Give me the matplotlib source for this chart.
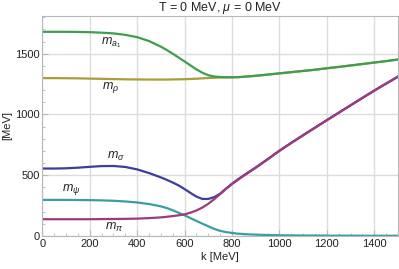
import matplotlib
matplotlib.use("Agg")
import matplotlib.pyplot as plt
from matplotlib.ticker import MultipleLocator

plt.rcParams['font.family'] = ['Liberation Sans', 'DejaVu Sans']
plt.rcParams['mathtext.fontset'] = 'custom'
plt.rcParams['mathtext.it'] = 'Liberation Sans:italic'
plt.rcParams['mathtext.rm'] = 'Liberation Sans'

k = [0, 50, 100, 150, 200, 250, 300, 350, 400, 450, 500,
     525, 550, 575, 600, 625, 650, 675, 700, 725, 750, 775, 800,
     825, 850, 875, 900,
     950, 1000, 1050, 1100, 1150, 1200, 1250, 1300, 1350, 1400, 1450, 1500]

m_a1 = [1680, 1680, 1680, 1679, 1677, 1673, 1667, 1655, 1636, 1604, 1558,
        1530, 1500, 1468, 1436, 1403, 1371, 1343, 1323, 1312, 1308, 1306, 1306,
        1307, 1310, 1314, 1318,
        1328, 1338, 1348, 1358, 1368, 1380, 1391, 1403, 1415, 1427, 1439, 1452]

m_rho = [1299, 1299, 1298, 1297, 1295, 1293, 1291, 1289, 1288, 1287, 1287,
         1287, 1288, 1289, 1290, 1292, 1294, 1297, 1300, 1302, 1304, 1305, 1306,
         1307, 1310, 1314, 1318,
         1328, 1338, 1348, 1358, 1368, 1380, 1391, 1403, 1415, 1427, 1439, 1452]

m_sigma = [555, 555, 557, 562, 569, 575, 576, 568, 548, 518, 482,
           462, 440, 416, 386, 354, 324, 305, 305, 320, 348, 390, 430,
           466, 500, 532, 564,
           632, 702, 767, 830, 892, 954, 1015, 1076, 1137, 1197, 1255, 1312]

m_psi = [297, 297, 297, 296, 295, 293, 290, 284, 276, 263, 244,
         230, 212, 191, 170, 147, 124, 101, 80, 58, 42, 32, 25,
         19, 16, 13, 11,
         8, 6, 5, 4, 4, 3, 3, 3, 2, 2, 2, 2]

m_pi = [138, 138, 138, 138, 138, 139, 140, 141, 143, 147, 153,
        158, 164, 170, 178, 192, 210, 234, 265, 303, 345, 388, 428,
        462, 496, 529, 561,
        630, 700, 765, 828, 890, 952, 1013, 1074, 1135, 1195, 1253, 1310]

labels = ['$m_{a_1}$', '$m_\\rho$', '$m_\\sigma$', '$m_\\psi$', '$m_\\pi$']
label_pos = [(292, 1590), (288, 1219), (311, 653), (121, 385), (304, 72)]

c_a1 = '#3f9e4e'
c_rho = '#a99c3c'
c_sigma = '#3d3d9e'
c_psi = '#3a9e9e'
c_pi = '#9e3a7c'

fig = plt.figure(figsize=(3.99, 2.69), dpi=100)
ax = fig.add_axes([0.106, 0.1227, 0.8915, 0.8178])

lw = 1.6
ax.plot(k, m_rho, color=c_rho, lw=lw)
ax.plot(k, m_a1, color=c_a1, lw=lw)
ax.plot(k, m_sigma, color=c_sigma, lw=lw)
ax.plot(k, m_psi, color=c_psi, lw=lw)
ax.plot(k, m_pi, color=c_pi, lw=lw)

for lab, (x, y) in zip(labels, label_pos):
    ax.text(x, y, lab, fontsize=9, ha='center', va='center', color='#222222')

ax.set_xlim(0, 1500)
ax.set_ylim(0, 1810)
ax.xaxis.set_major_locator(MultipleLocator(200))
ax.xaxis.set_minor_locator(MultipleLocator(50))
ax.yaxis.set_major_locator(MultipleLocator(500))
ax.yaxis.set_minor_locator(MultipleLocator(100))
ax.grid(True, which='major', color='#dcdcdc', lw=1.0)
ax.set_axisbelow(True)
for s in ax.spines.values():
    s.set_color('#b8b8b8')
    s.set_linewidth(0.8)
ax.tick_params(which='both', direction='in', color='#b8b8b8', labelsize=8,
               labelcolor='#222222', pad=2)
ax.tick_params(which='major', length=4)
ax.tick_params(which='minor', length=2)
ax.tick_params(top=False, right=False, which='both')

ax.set_xlabel('k [MeV]', fontsize=8, color='#222222', labelpad=2)
ax.set_ylabel('[MeV]', fontsize=8, color='#222222', labelpad=2)
ax.set_title('T = 0 MeV, $\\mu$ = 0 MeV', fontsize=9, color='#222222', pad=3)

fig.savefig('out.png', dpi=100)
